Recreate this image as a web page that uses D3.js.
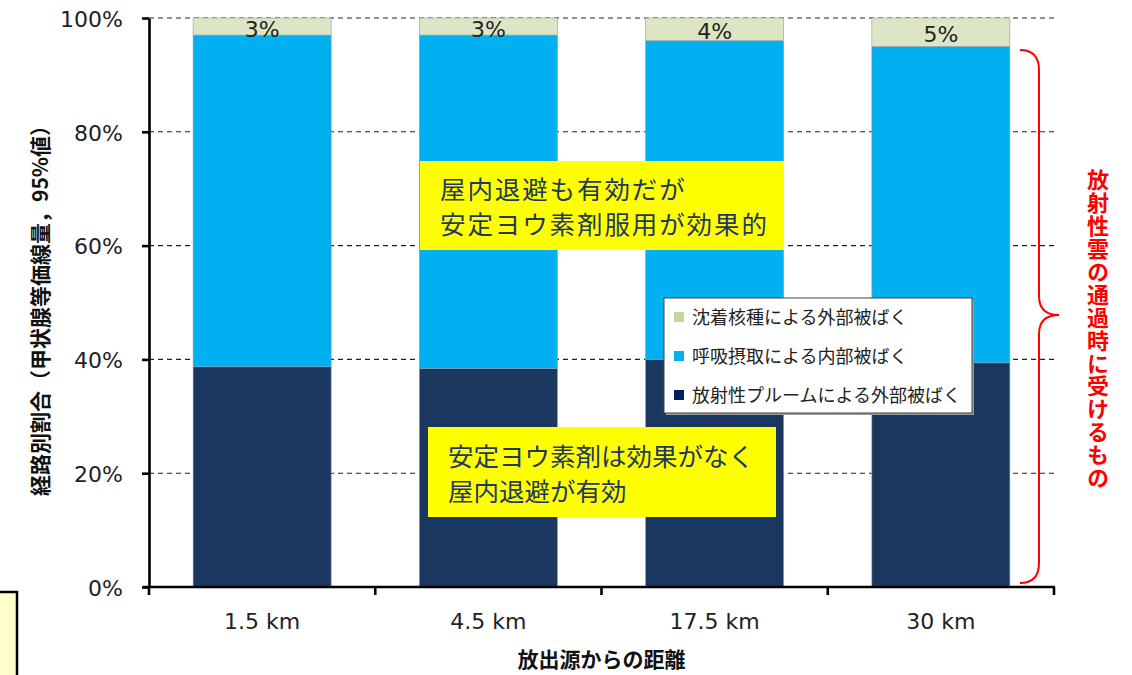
<!DOCTYPE html>
<html>
<head>
<meta charset="utf-8">
<script src="https://cdn.jsdelivr.net/npm/d3@7"></script>
<style>
  html, body { margin: 0; padding: 0; background: #fff; }
  svg { display: block; }
</style>
</head>
<body>
<svg id="chart" width="1132" height="675"></svg>
<script>
// Distance from the release point
const categories = ["1.5 km", "4.5 km", "17.5 km", "30 km"];
// Share of thyroid equivalent dose (95th percentile) by exposure pathway, %
const plume = [38.7, 38.4, 40.0, 39.4];        // external exposure from the radioactive plume
const inhalation = [58.3, 58.6, 56.0, 55.6];   // internal exposure from inhalation
const deposition = [3, 3, 4, 5];               // external exposure from deposited nuclides
const depositionLabels = ["3%", "3%", "4%", "5%"];
const yTicks = [0, 20, 40, 60, 80, 100];

const seriesKeys = ["plume", "inhalation", "deposition"];
const seriesColors = { plume: "#1a3760", inhalation: "#00b0f0", deposition: "#dde6c4" };
const legendColors = { plume: "#002060", inhalation: "#00b0f0", deposition: "#c4d79b" };
const legendNames = {
  deposition: "沈着核種による外部被ばく",
  inhalation: "呼吸摂取による内部被ばく",
  plume: "放射性プルームによる外部被ばく"
};

const latin = "'DejaVu Sans', Verdana, sans-serif";
const jp = "'Noto Sans CJK JP', 'Noto Sans', sans-serif";

const svg = d3.select("#chart");

const x = d3.scaleBand().domain(categories).range([149, 1054])
  .paddingInner(0.39).paddingOuter(0.195);
const y = d3.scaleLinear().domain([0, 100]).range([587, 18]);

const rows = categories.map((c, i) => ({
  cat: c, plume: plume[i], inhalation: inhalation[i], deposition: deposition[i]
}));
const stacked = d3.stack().keys(seriesKeys)(rows);

// dashed gridlines
svg.append("g").selectAll("line")
  .data(yTicks.filter(d => d > 0))
  .join("line")
  .attr("x1", x.range()[0]).attr("x2", x.range()[1])
  .attr("y1", d => y(d)).attr("y2", d => y(d))
  .attr("stroke", "#222").attr("stroke-width", 1.1)
  .attr("stroke-dasharray", "5,4");

// stacked bars
svg.append("g").selectAll("g")
  .data(stacked)
  .join("g")
  .attr("fill", d => seriesColors[d.key])
  .selectAll("rect")
  .data(d => d)
  .join("rect")
  .attr("x", d => x(d.data.cat))
  .attr("width", x.bandwidth())
  .attr("y", d => y(d[1]))
  .attr("height", d => y(d[0]) - y(d[1]))
  .attr("stroke", "#8c9aae").attr("stroke-width", 0.6);

// value labels on the deposition segment
const depLayer = stacked.find(s => s.key === "deposition");
svg.append("g").selectAll("text")
  .data(depLayer)
  .join("text")
  .attr("x", d => x(d.data.cat) + x.bandwidth() / 2)
  .attr("y", d => (y(d[0]) + y(d[1])) / 2 + 10)
  .attr("text-anchor", "middle")
  .attr("font-family", latin).attr("font-size", 22).attr("fill", "#222")
  .text((d, i) => depositionLabels[i]);

// y axis
const yAxis = svg.append("g")
  .attr("transform", `translate(${x.range()[0]},0)`)
  .call(d3.axisLeft(y).tickValues(yTicks).tickFormat(d => d + "%")
    .tickSize(7).tickSizeOuter(0).tickPadding(19));
yAxis.select(".domain").attr("stroke", "#000").attr("stroke-width", 2.6);
yAxis.selectAll(".tick line").attr("stroke", "#000").attr("stroke-width", 2.6);
yAxis.selectAll(".tick text")
  .attr("font-family", latin).attr("font-size", 22).attr("fill", "#222").attr("dy", "0.38em");

// x axis: labels centred on bars, tick marks between categories
const xAxis = svg.append("g")
  .attr("transform", `translate(0,${y(0)})`)
  .call(d3.axisBottom(x).tickSize(0).tickSizeOuter(0).tickPadding(26));
xAxis.select(".domain").remove();
xAxis.selectAll(".tick text")
  .attr("font-family", latin).attr("font-size", 22).attr("fill", "#222");
svg.append("line")
  .attr("x1", x.range()[0] - 6).attr("x2", x.range()[1] + 1)
  .attr("y1", y(0)).attr("y2", y(0))
  .attr("stroke", "#000").attr("stroke-width", 2.6);
const boundaries = categories.map(c => x(c) - x.step() * x.paddingInner() / 2)
  .concat([x.range()[1]]);
svg.append("g").selectAll("line")
  .data(boundaries)
  .join("line")
  .attr("x1", d => d).attr("x2", d => d)
  .attr("y1", y(0)).attr("y2", y(0) + 8)
  .attr("stroke", "#000").attr("stroke-width", 2.6);

// axis titles
svg.append("text")
  .attr("transform", `translate(48,${(y(0) + y(100)) / 2 + 3}) rotate(-90)`)
  .attr("text-anchor", "middle")
  .attr("font-family", jp).attr("font-size", 21).attr("font-weight", "bold").attr("fill", "#111")
  .text("経路別割合（甲状腺等価線量，95%値）");
svg.append("text")
  .attr("x", (x.range()[0] + x.range()[1]) / 2).attr("y", 667)
  .attr("text-anchor", "middle")
  .attr("font-family", jp).attr("font-size", 21).attr("font-weight", "bold").attr("fill", "#111")
  .text("放出源からの距離");

// legend
const legend = svg.append("g").attr("transform", "translate(664,298)");
legend.append("rect").attr("x", 2).attr("y", 2).attr("width", 308).attr("height", 115)
  .attr("fill", "#9a9a9a");
legend.append("rect").attr("width", 308).attr("height", 115)
  .attr("fill", "#fff").attr("stroke", "#444").attr("stroke-width", 1);
["deposition", "inhalation", "plume"].forEach((k, i) => {
  const cy = 19 + i * 39;
  legend.append("rect").attr("x", 10).attr("y", cy - 5).attr("width", 10).attr("height", 10)
    .attr("fill", legendColors[k]);
  legend.append("text").attr("x", 28).attr("y", cy + 7)
    .attr("font-family", jp).attr("font-size", 18).attr("fill", "#222")
    .text(legendNames[k]);
});

// yellow callouts (two-line text in one element)
function callout(x0, y0, w, h, lines, size, spacing, tx, firstBaseline, lineStep) {
  const g = svg.append("g");
  g.append("rect").attr("x", x0).attr("y", y0).attr("width", w).attr("height", h)
    .attr("fill", "#ffff00");
  const t = g.append("text")
    .attr("font-family", jp).attr("font-size", size).attr("letter-spacing", spacing)
    .attr("fill", "#1f3864");
  lines.forEach((line, i) => {
    t.append("tspan").attr("x", tx).attr("y", firstBaseline + i * lineStep).text(line);
  });
}
callout(420, 161, 364, 89, ["屋内退避も有効だが", "安定ヨウ素剤服用が効果的"], 25.5, 1.9, 440, 199, 35);
callout(428, 427, 348, 90, ["安定ヨウ素剤は効果がなく", "屋内退避が有効"], 25.5, 0, 448, 466, 35);

// partial note box at lower left
svg.append("rect").attr("x", -6).attr("y", 592).attr("width", 23).attr("height", 100)
  .attr("fill", "#ffffcc").attr("stroke", "#000").attr("stroke-width", 2.5);

// red brace spanning the plume-passage pathways
svg.append("path")
  .attr("d", "M1020,50 Q1039,50 1039,70 L1039,296 Q1039,315 1059,315 Q1039,315 1039,334 L1039,563 Q1039,583 1020,583")
  .attr("fill", "none").attr("stroke", "#ff0000").attr("stroke-width", 2);

// vertical caption beside the brace
svg.append("text")
  .attr("x", 1098).attr("y", 169)
  .style("writing-mode", "vertical-rl")
  .attr("letter-spacing", 0.9)
  .attr("font-family", jp).attr("font-size", 22).attr("font-weight", "bold").attr("fill", "#ff0000")
  .text("放射性雲の通過時に受けるもの");
</script>
</body>
</html>
